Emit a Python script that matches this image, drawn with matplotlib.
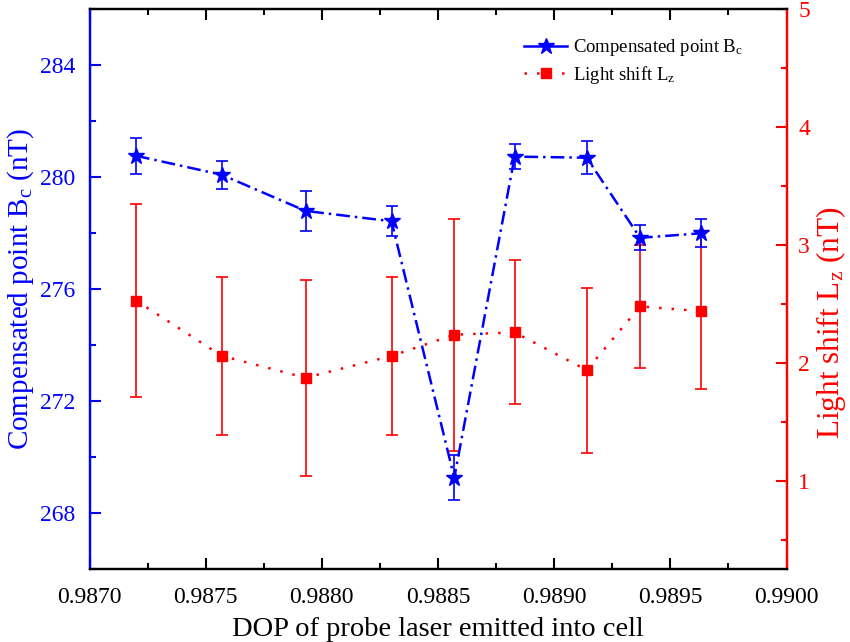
import matplotlib
matplotlib.use("Agg")
import matplotlib.pyplot as plt
from matplotlib.ticker import MultipleLocator, FixedLocator
from matplotlib.lines import Line2D

plt.rcParams['font.family'] = ['Liberation Serif', 'DejaVu Serif']
plt.rcParams['mathtext.fontset'] = 'custom'
plt.rcParams['mathtext.rm'] = 'Liberation Serif'
plt.rcParams['mathtext.it'] = 'Liberation Serif:italic'

# Data
dop = [0.98720, 0.98757, 0.98793, 0.98830, 0.98857, 0.98883, 0.98914, 0.98937, 0.98963]
bc = [280.77, 280.09, 278.80, 278.43, 269.27, 280.74, 280.70, 277.84, 278.00]
bc_err = [0.65, 0.50, 0.70, 0.54, 0.80, 0.45, 0.59, 0.45, 0.50]
lz = [2.53, 2.06, 1.875, 2.06, 2.24, 2.26, 1.94, 2.48, 2.44]
lz_err = [0.82, 0.67, 0.83, 0.67, 0.985, 0.61, 0.70, 0.52, 0.66]

xticks = [0.9870, 0.9875, 0.9880, 0.9885, 0.9890, 0.9895, 0.9900]
xtick_labels = ['0.9870', '0.9875', '0.9880', '0.9885', '0.9890', '0.9895', '0.9900']
left_ticks = [268, 272, 276, 280, 284]
right_ticks = [1, 2, 3, 4, 5]

BLUE = '#0000ff'
RED = '#ff0000'
blue_ls = (0, (5.5, 2, 1, 2))
red_ls = (0, (1, 4))

fig = plt.figure(figsize=(8.5, 6.42), dpi=100)
ax = fig.add_axes([0.1053, 0.1132, 0.8200, 0.8723])
ax2 = ax.twinx()

# Red series on right axis
ax2.errorbar(dop, lz, yerr=lz_err, color=RED, ecolor=RED, elinewidth=1.2,
             capsize=4.3, capthick=1.2, marker='s', markersize=7,
             linestyle=red_ls, linewidth=1.8, zorder=2)
# Blue series on left axis
ax.errorbar(dop, bc, yerr=bc_err, color=BLUE, ecolor=BLUE, elinewidth=1.2,
            capsize=4.3, capthick=1.2, marker='*', markersize=12,
            linestyle=blue_ls, linewidth=1.8, zorder=3)

ax.set_zorder(ax2.get_zorder() + 1)
ax.patch.set_visible(False)

ax.set_xlim(0.9870, 0.9900)
ax.set_ylim(266, 286)
ax2.set_ylim(0.25, 5)

ax.xaxis.set_major_locator(FixedLocator(xticks))
ax.set_xticklabels(xtick_labels)
ax.xaxis.set_minor_locator(MultipleLocator(0.00025))
ax.yaxis.set_major_locator(FixedLocator(left_ticks))
ax.yaxis.set_minor_locator(MultipleLocator(2))
ax2.yaxis.set_major_locator(FixedLocator(right_ticks))
ax2.yaxis.set_minor_locator(MultipleLocator(0.5))

ax.tick_params(axis='x', which='both', direction='in', top=True, colors='black',
               labelsize=17, width=1.5, pad=13)
ax.tick_params(axis='x', which='major', length=8)
ax.tick_params(axis='x', which='minor', length=4)
ax.tick_params(axis='y', which='both', direction='in', colors=BLUE, labelsize=17,
               width=1.5, pad=10)
ax.tick_params(axis='y', which='major', length=8)
ax.tick_params(axis='y', which='minor', length=4)
ax2.tick_params(axis='y', which='both', direction='in', colors=RED, labelsize=17,
                width=1.5, pad=8.5)
ax2.tick_params(axis='y', which='major', length=8)
ax2.tick_params(axis='y', which='minor', length=4)

for a in (ax, ax2):
    for s in a.spines.values():
        s.set_linewidth(1.6)
ax.spines['left'].set_color(BLUE)
ax2.spines['left'].set_color(BLUE)
ax2.spines['right'].set_color(RED)
ax.spines['right'].set_color(RED)
ax.spines['bottom'].set_color('black')
ax.spines['top'].set_color('black')
ax2.spines['top'].set_color('black')
ax2.spines['bottom'].set_color('black')

ax.set_xlabel('DOP of probe laser emitted into cell', fontsize=20.5, color='black', labelpad=6)
ax.set_ylabel('Compensated point B$_\\mathregular{c}$ (nT)', fontsize=21, color=BLUE, labelpad=3)
ax2.set_ylabel('Light shift L$_\\mathregular{z}$ (nT)', fontsize=22.5, color=RED)
ax2.yaxis.set_label_coords(1.040, 0.44)

handles = [
    Line2D([], [], color=BLUE, linestyle='-', linewidth=1.8, marker='*', markersize=12),
    Line2D([], [], color=RED, linestyle=red_ls, linewidth=1.8, marker='s', markersize=7),
]
labels = ['Compensated point B$_\\mathregular{c}$', 'Light shift L$_\\mathregular{z}$']
ax.legend(handles, labels, loc='upper right', bbox_to_anchor=(0.962, 0.98),
          frameon=False, fontsize=13.5, handlelength=2.3, handletextpad=0.3,
          labelspacing=0.3)

fig.savefig('out.png', dpi=100)
